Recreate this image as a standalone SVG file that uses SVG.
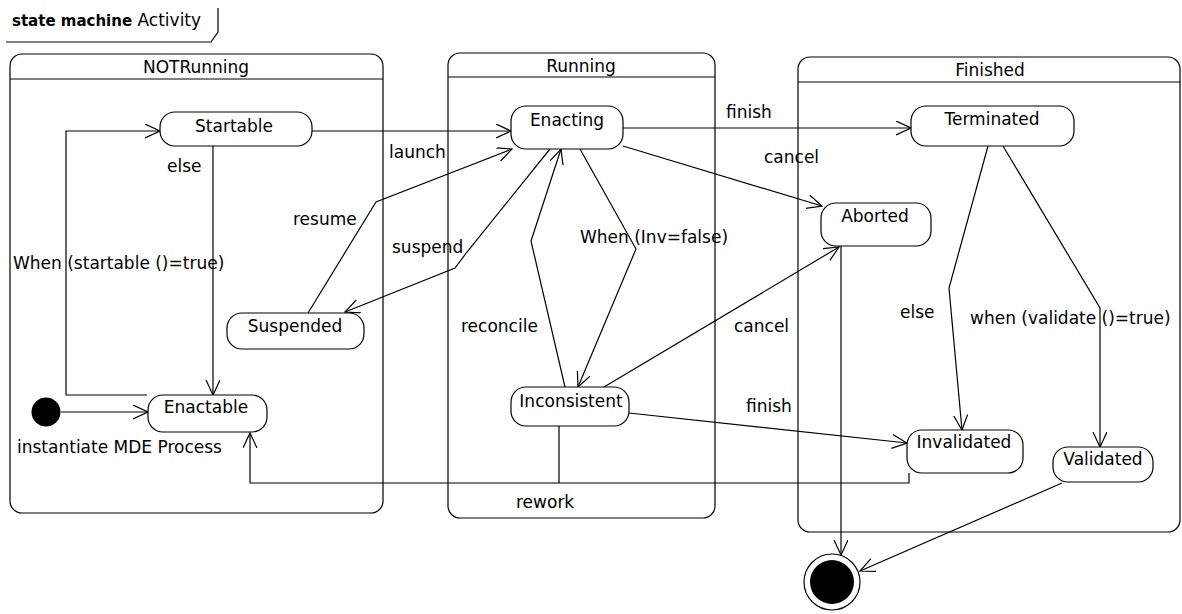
<svg xmlns="http://www.w3.org/2000/svg" width="1182" height="614" viewBox="0 0 1182 614">
<style>
text{font-family:"DejaVu Sans","Liberation Sans",sans-serif;font-size:17px;fill:#000}
.t{text-anchor:middle}
.b{font-weight:bold;font-size:15px}
.box{fill:#fff;stroke:#000;stroke-width:1.2}
.st{fill:#fff;stroke:#000;stroke-width:1.2}
.c{fill:none;stroke:#000;stroke-width:1.2}
.a{marker-end:url(#arr)}
</style>
<defs>
<marker id="arr" viewBox="0 0 16 16" refX="15" refY="7" markerWidth="16" markerHeight="16" markerUnits="userSpaceOnUse" orient="auto">
<path d="M0,0 L15,7 L0,14" fill="none" stroke="#000" stroke-width="1.2"/>
</marker>
</defs>
<rect width="1182" height="614" fill="#fff"/>
<g id="frame">
<path class="c" d="M6,42 H211 L218,32 V8"/>
<text x="12" y="26"><tspan class="b">state machine</tspan> Activity</text>
</g>
<g id="NOTRunning">
<rect class="box" x="10" y="54" width="373" height="459" rx="12"/>
<line class="c" x1="10" y1="79" x2="383" y2="79"/>
<text class="t" x="196" y="73">NOTRunning</text>
</g>
<g id="Running">
<rect class="box" x="448" y="53" width="267" height="465" rx="12"/>
<line class="c" x1="448" y1="77" x2="715" y2="77"/>
<text class="t" x="581" y="72">Running</text>
</g>
<g id="Finished">
<rect class="box" x="798" y="57" width="382" height="475" rx="12"/>
<line class="c" x1="798" y1="82" x2="1180" y2="82"/>
<text class="t" x="990" y="76">Finished</text>
</g>
<g id="connectors">
<path class="c a" d="M312,131 H511"/>
<path class="c a" d="M308,313 L376,202 L512,149"/>
<path class="c a" d="M550,149 L467,252 L455,268 L345,312"/>
<path class="c a" d="M213,146 V395"/>
<path class="c a" d="M147,395 H66 V131 H160"/>
<path class="c a" d="M61,412 H148"/>
<path class="c a" d="M909,473 V483 H250 V433"/>
<path class="c" d="M559,426 V483"/>
<path class="c a" d="M580,149 L636,249 L578,387"/>
<path class="c a" d="M565,387 L531,241 L561,149"/>
<path class="c a" d="M604,387 L839,247"/>
<path class="c a" d="M623,146 L822,206"/>
<path class="c a" d="M623,128 H911"/>
<path class="c a" d="M629,413 L907,443"/>
<path class="c a" d="M988,146 L949,288 L962,430"/>
<path class="c a" d="M1003,146 L1100,308 V447"/>
<path class="c a" d="M841,246 V555"/>
<path class="c a" d="M1062,483 L860,571"/>
<text x="389" y="158">launch</text>
<text x="293" y="225">resume</text>
<text x="392" y="253">suspend</text>
<text x="167" y="172">else</text>
<text x="13" y="269">When (startable ()=true)</text>
<text x="17" y="453">instantiate MDE Process</text>
<text x="516" y="508">rework</text>
<text x="461" y="332">reconcile</text>
<text x="734" y="332">cancel</text>
<text x="746" y="412">finish</text>
<text x="580" y="243">When (Inv=false)</text>
<text x="726" y="118">finish</text>
<text x="764" y="163">cancel</text>
<text x="900" y="318">else</text>
<text x="970" y="324">when (validate ()=true)</text>
</g>
<g id="initial">
<circle cx="46" cy="412" r="14.5" fill="#000"/>
</g>
<g id="Startable">
<rect class="st" x="160" y="112" width="152" height="34" rx="15"/>
<text class="t" x="234" y="132">Startable</text>
</g>
<g id="Enactable">
<rect class="st" x="148" y="395" width="119" height="37" rx="15"/>
<text class="t" x="206" y="413">Enactable</text>
</g>
<g id="Suspended">
<rect class="st" x="227" y="313" width="137" height="36" rx="15"/>
<text class="t" x="295" y="332">Suspended</text>
</g>
<g id="Enacting">
<rect class="st" x="511" y="106" width="112" height="43" rx="15"/>
<text class="t" x="567" y="126">Enacting</text>
</g>
<g id="Inconsistent">
<rect class="st" x="511" y="387" width="118" height="39" rx="15"/>
<text class="t" x="571" y="407">Inconsistent</text>
</g>
<g id="Terminated">
<rect class="st" x="911" y="106" width="163" height="40" rx="15"/>
<text class="t" x="992" y="125">Terminated</text>
</g>
<g id="Aborted">
<rect class="st" x="821" y="203" width="110" height="43" rx="15"/>
<text class="t" x="875" y="222">Aborted</text>
</g>
<g id="Invalidated">
<rect class="st" x="907" y="430" width="116" height="43" rx="15"/>
<text class="t" x="964" y="448">Invalidated</text>
</g>
<g id="Validated">
<rect class="st" x="1053" y="447" width="100" height="35" rx="15"/>
<text class="t" x="1103" y="465">Validated</text>
</g>
<g id="final">
<circle cx="832" cy="582" r="28" fill="#fff" stroke="#000" stroke-width="1.2"/>
<circle cx="832" cy="582" r="22" fill="#000"/>
</g>
</svg>
